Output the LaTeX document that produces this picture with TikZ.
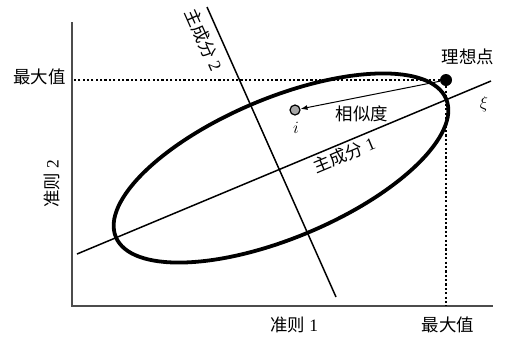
\documentclass[tikz,border=0pt]{standalone}
\usepackage{fontspec}
\setmainfont{Liberation Serif}
\newfontfamily\cjk{Noto Sans CJK SC}
\usetikzlibrary{arrows.meta,positioning,calc}

\begin{document}
\begin{tikzpicture}[x=1bp,y=-1bp,every node/.style={font=\fontsize{17.5}{19}\selectfont,inner sep=1pt}]
\tikzstyle{pcline}=[line width=1.5pt]
\tikzstyle{maxline}=[line width=1.8pt,dash pattern=on 2.2pt off 2.2pt]
\tikzstyle{dot}=[circle,inner sep=0pt]
\useasboundingbox (0,0) rectangle (511,338);
% axes
\coordinate (o) at (72,306);
\coordinate (ytop) at (72,22);
\coordinate (xend) at (493,306);
\draw[line width=1.8pt,black!70] (ytop) -- (o) -- (xend);
% principal components
\coordinate (pc1a) at (77,254);
\coordinate (pc1b) at (491,81);
\coordinate (pc2a) at (207,7);
\coordinate (pc2b) at (336,297);
\draw[pcline] (pc1a) -- (pc1b);
\draw[pcline] (pc2a) -- (pc2b);
\draw[line width=3.8pt,rotate around={22.7:(281,168)}] (281,168) ellipse [x radius=179,y radius=70];
% points
\node[dot,fill=black,minimum size=12bp] (ideal) at (446,80) {};
\node[dot,draw,fill=black!35,line width=1.2pt,minimum size=10bp] (pti) at (295,110) {};
\draw[maxline] (ideal) -- (ideal -| o);
\draw[maxline] (ideal) -- (ideal |- o);
\draw[-{Latex[length=7pt,width=5pt]},line width=1pt] (ideal) -- (pti);
% labels
\node[anchor=east] (ymax) at (67,77) {\cjk 最大值};
\node (xmax) at (448,325) {\cjk 最大值};
\node (xlab) at (294,325) {{\cjk 准则} 1};
\node[rotate=90] (ylab) at (52,184) {{\cjk 准则} 2};
\node (ideallab) at (468,57) {\cjk 理想点};
\node (xi) at (484,104) {$\xi$};
\node (ilab) at (296,128) {$i$};
\node (sim) at (362,114) {\cjk 相似度};
\node[rotate=22.7] (pc1lab) at (344,155) {{\cjk 主成分} 1};
\node[rotate=-66] (pc2lab) at (204,40) {{\cjk 主成分} 2};
\end{tikzpicture}
\end{document}
